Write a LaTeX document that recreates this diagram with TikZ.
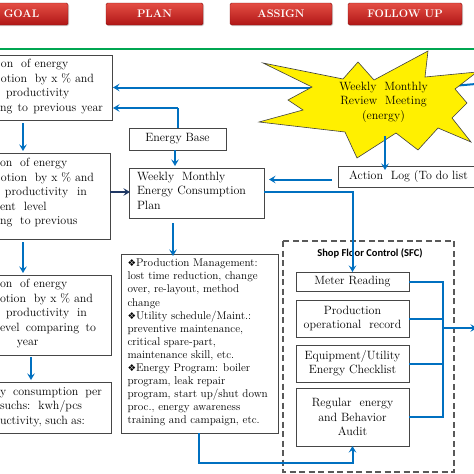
\documentclass[tikz,border=0pt]{standalone}
\usepackage{fontspec}
\newfontfamily\symfont{DejaVu Sans}
\newfontfamily\sfcfont{Carlito}
\usetikzlibrary{arrows.meta,shadows}
\definecolor{lineblue}{RGB}{0,112,192}
\definecolor{navyblue}{RGB}{31,56,100}
\definecolor{boxgray}{RGB}{70,70,70}
\definecolor{starfill}{RGB}{255,240,0}
\definecolor{hdrgreen}{RGB}{0,166,81}
\definecolor{hdrtop}{RGB}{228,78,68}
\definecolor{hdrbot}{RGB}{176,22,22}
\newcommand{\bulletdia}{{\symfont\fontsize{9.5}{9.5}\selectfont ❖}}
\newcommand{\jline}[2]{\makebox[#1pt][s]{#2}}
\tikzset{
  lbox/.style={draw=boxgray, line width=0.9pt, fill=white, inner sep=0pt, outer sep=0pt},
  ltext/.style={inner sep=0pt, outer sep=0pt, align=left, anchor=north west, font=\fontsize{12}{14.4}\selectfont},
  ctext/.style={inner sep=0pt, align=center, font=\fontsize{12}{14.4}\selectfont},
  ptext/.style={inner sep=0pt, outer sep=0pt, align=left, anchor=north west, font=\fontsize{11.2}{13.1}\selectfont},
  hdr/.style={rounded corners=1.5pt, top color=hdrtop, bottom color=hdrbot, draw=hdrbot!80!black, line width=0.4pt,
    text=white, font=\fontsize{11}{12}\selectfont\bfseries, minimum height=22pt, inner sep=0pt,
    drop shadow={shadow xshift=1pt, shadow yshift=-1.2pt, opacity=0.35}},
  arr/.style={draw=lineblue, line width=2pt, -{Stealth[length=6.5pt,width=7.5pt,inset=2.5pt]}},
  navyarr/.style={draw=navyblue, line width=2pt, -{Stealth[length=6.5pt,width=7.5pt,inset=2.5pt]}},
  ln/.style={draw=lineblue, line width=2pt},
}
\begin{document}
\begin{tikzpicture}[x=1pt,y=-1pt]
\useasboundingbox (0,0) rectangle (474,474);
\clip (0,0) rectangle (474,474);
\fill[white] (0,0) rectangle (474,474);

% header
\node[hdr, minimum width=93pt] (goal) at (21.5,14) {GOAL};
\node[hdr, minimum width=97pt] (plan) at (154.5,14) {PLAN};
\node[hdr, minimum width=102pt] (assign) at (281,14) {ASSIGN};
\node[hdr, minimum width=114pt] (follow) at (405,14) {FOLLOW UP};
\draw[hdrgreen, line width=2.2pt] (0,49) -- (474,49);

% left boxes
\node[lbox, anchor=north east, minimum width=150pt, minimum height=65pt] (A) at (112,55) {};
\node[ltext] (At) at (0,59.5) {\hspace*{1pt}on\ \ of energy\\
\hspace*{1pt}otion\ \ by x \% and\\
\hspace*{6pt}productivity\\
\jline{103}{ng to previous year}};

\node[lbox, anchor=north east, minimum width=150pt, minimum height=86pt] (B) at (110,153) {};
\node[ltext] (Bt) at (0,158.5) {on\ \ of energy\\
\hspace*{1pt}otion\ \ by x \% and\\
\hspace*{5pt}\jline{82}{productivity in}\\
ent\ \ level\\
ng\ \ to previous};

\node[lbox, anchor=north east, minimum width=150pt, minimum height=80pt] (C) at (111,275) {};
\node[ltext] (Ct) at (0,279.5) {on\ \ of energy\\
otion\ \ by x \% and\\
\hspace*{6pt}\jline{81}{productivity in}\\
\jline{96}{evel comparing to}\\
\hspace*{17pt}year};

\node[lbox, anchor=north east, minimum width=150pt, minimum height=51pt] (D) at (111,382) {};
\node[ltext] (Dt) at (0,387.5) {\jline{102}{y consumption per}\\
suchs:\ \ kwh/pcs\\
\jline{85}{uctivity, such as:}};

\coordinate (x1) at (23,0);
\coordinate (x2) at (31,0);
\draw[arr] (A.south -| x1) ++(0,3) -- ([yshift=2pt]B.north -| x1);
\draw[arr] (B.south -| x1) ++(0,3) -- ([yshift=2pt]C.north -| x1);
\draw[arr] (C.south -| x2) ++(0,2) -- ([yshift=2pt]D.north -| x2);

% middle boxes
\node[lbox, minimum width=97pt, minimum height=22pt, font=\fontsize{12}{14.4}\selectfont] (EB) at (177.5,139) {Energy Base};
\node[lbox, anchor=north west, minimum width=135pt, minimum height=50pt] (E) at (129,168) {};
\node[ltext] (Et) at (137,172) {Weekly\ \ Monthly\\Energy Consumption\\Plan};

\node[lbox, anchor=north west, minimum width=157pt, minimum height=179pt] (F) at (121,254) {};
\node[ptext] (Ft) at (127.5,259) {\bulletdia Production Management:\\
lost time reduction, change\\
over, re-layout, method\\
change\\
\bulletdia Utility schedule/Maint.:\\
preventive maintenance,\\
critical spare-part,\\
maintenance skill, etc.\\
\bulletdia Energy Program: boiler\\
program, leak repair\\
program, start up/shut down\\
proc., energy awareness\\
training and campaign, etc.};

% action log
\node[lbox, anchor=north west, minimum width=145pt, minimum height=21pt] (AL) at (338,166) {};
\node[ctext, anchor=west] (ALt) at (349,177) {Action\ \ Log (To do list};

% starburst
\coordinate (starL) at (312,87.5);
\coordinate (starB) at (385,136);
\coordinate (starR) at (452,86);
\coordinate (edgeR) at (476,84);
\draw[arr] (starL) -- ([xshift=1pt]A.east |- starL);
\draw[ln] (starR) -- (edgeR);
\filldraw[fill=starfill, draw=black!75, line width=0.6pt]
  (263,63) -- (343,79) -- (358,62) -- (374,80) -- (428,51) -- (425,77) -- (477,72) -- (455,89)
  -- (467,103) -- (452,118) -- (471,142) -- (438,128) -- (418,150) -- (396,133) -- (357,158)
  -- (345,132) -- (259,122) -- (303,110) -- (288,100) -- (312,87) -- cycle;
\node[ctext] (star) at (383.5,102) {Weekly\ \ Monthly\\Review\ \ Meeting\\(energy)};

% SFC
\draw[black!65, line width=1.1pt, dash pattern=on 6pt off 3.5pt] (283,241) rectangle (454,472);
\node[inner sep=0pt, font=\sfcfont\fontsize{10.5}{12}\selectfont\bfseries] (sfc) at (370,253) {Shop Floor Control (SFC)};
\node[lbox, ctext, minimum width=113pt, minimum height=19pt] (MR) at (352.5,281.5) {Meter Reading};
\node[lbox, ctext, minimum width=113pt, minimum height=37pt] (PR) at (352.5,318.5) {Production\\operational\ \ record};
\node[lbox, ctext, minimum width=113pt, minimum height=37pt] (EQ) at (352.5,363.5) {Equipment/Utility\\Energy Checklist};
\node[lbox, ctext, minimum width=113pt, minimum height=58pt] (AU) at (352.5,417) {Regular\ \ energy\\and Behavior\\Audit};

% connectors
\coordinate (bx) at (443,0);
\coordinate (outR) at (477,328);
\coordinate (ebTop) at (177.5,108);
\draw[ln] (EB.north) -- (ebTop);
\draw[arr] (ebTop) -- ([xshift=1pt]A.east |- ebTop);
\draw[arr] (EB.south -| 175,0) -- ([yshift=2pt]E.north -| 175,0);
\draw[navyarr] (B.east |- 0,192) -- ([xshift=1pt]E.west |- 0,192);
\draw[arr] ([xshift=-6pt]AL.west |- 0,179.5) -- ([xshift=5pt]E.east |- 0,179.5);
\draw[arr] (starB) -- ([yshift=-4pt]AL.north -| starB);
\draw[arr] (E.east |- 0,192) -| (MR.north);
\draw[arr] (E.south -| 173,0) ++(0,5) -- ([yshift=-2pt]F.north -| 173,0);
\coordinate (fLow) at (199,463);
\draw[arr] (F.south -| fLow) -- (fLow) -| (AU.south);
\draw[ln] (MR.east) -- (MR.east -| bx) -- (AU.east -| bx) -- (AU.east);
\draw[ln] (PR.east) -- (PR.east -| bx);
\draw[ln] (EQ.east) -- (EQ.east -| bx);
\draw[arr, line width=2.2pt] (outR -| bx) -- (outR);
\end{tikzpicture}
\end{document}
